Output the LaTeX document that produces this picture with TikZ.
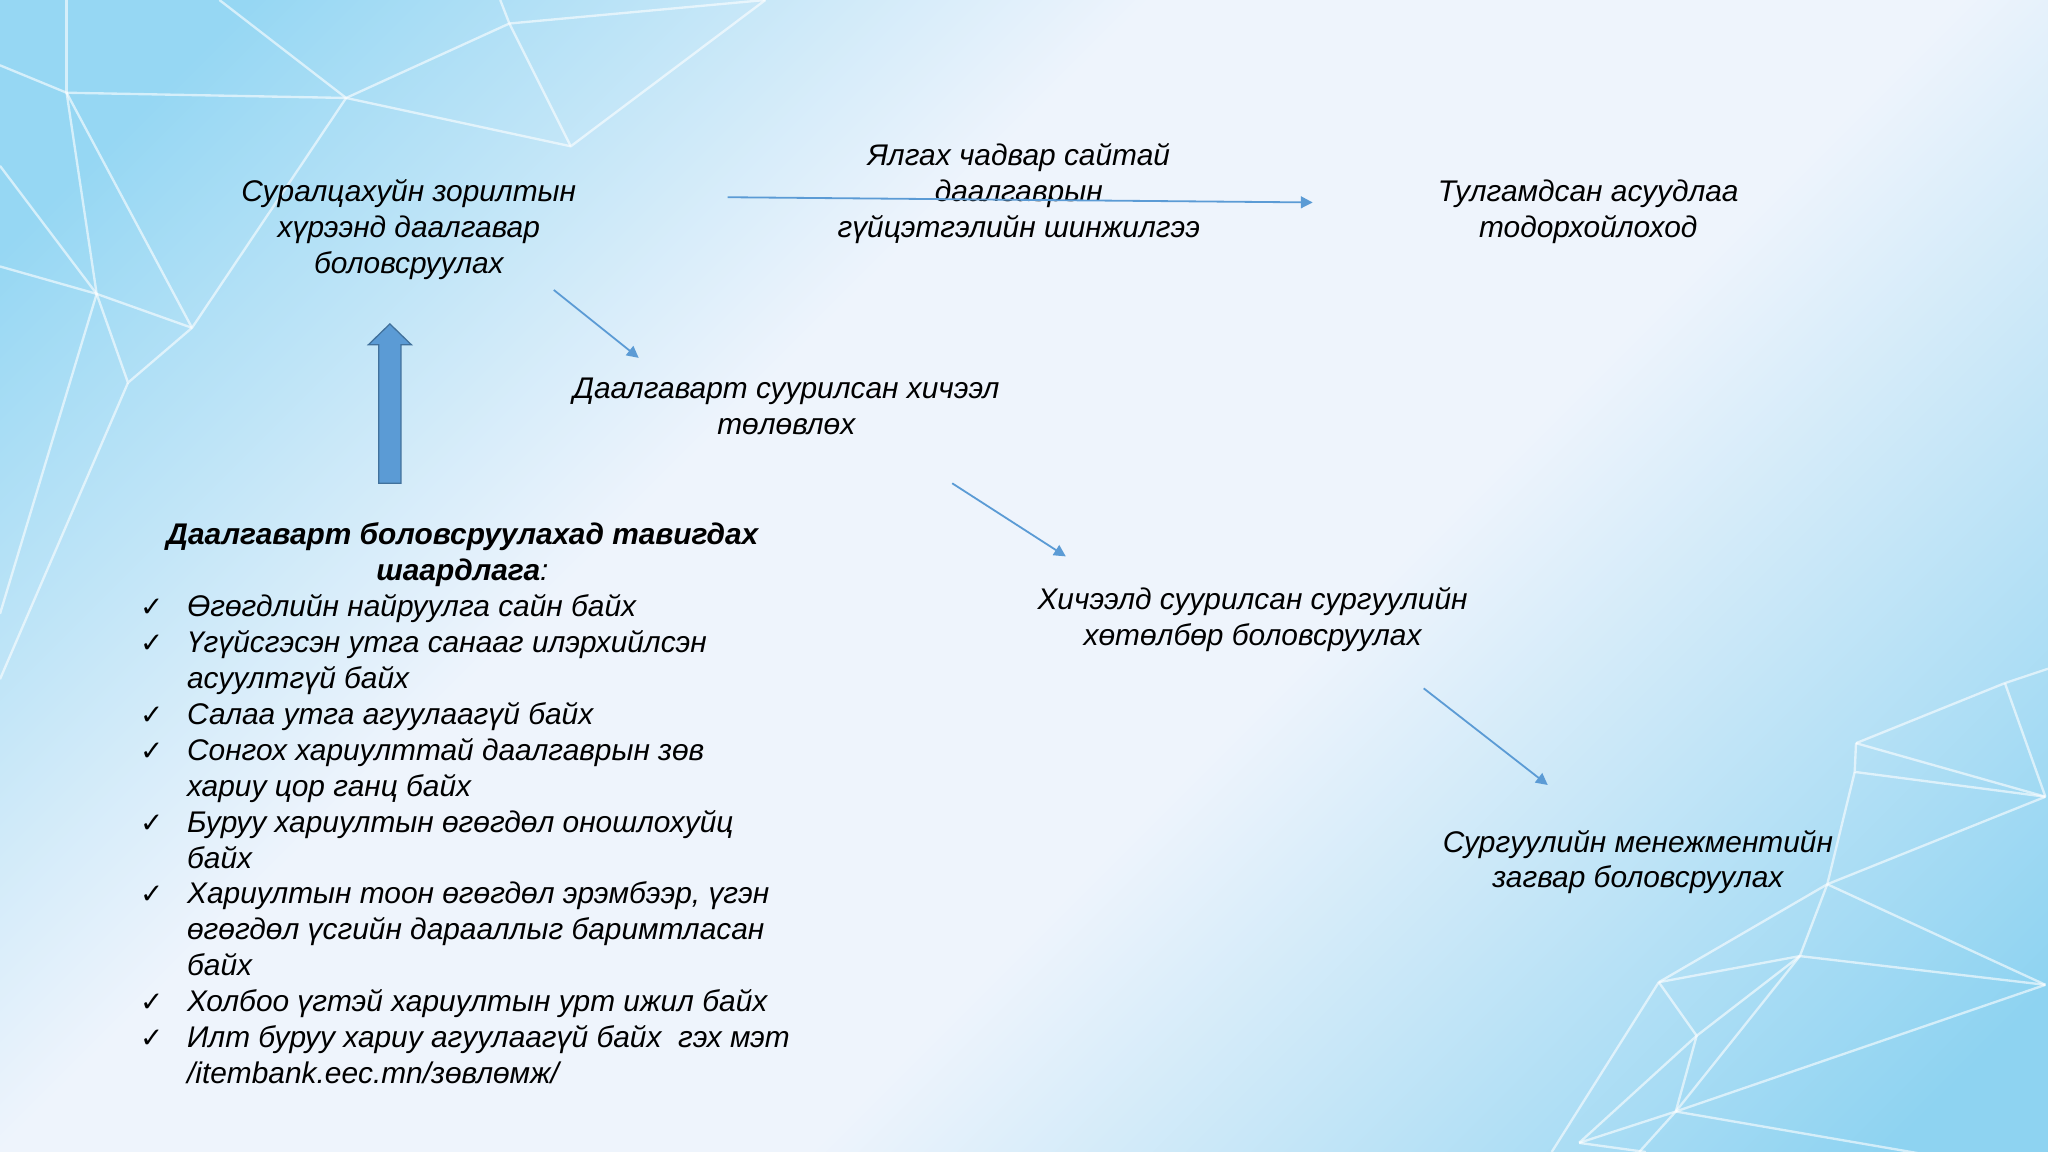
\documentclass[tikz,border=0pt]{standalone}
\usepackage{fontspec}
\setmainfont{Liberation Sans}
\newfontfamily\symfont{DejaVu Sans}
\usetikzlibrary{arrows.meta,calc}
\definecolor{bgA}{HTML}{96D7F3}
\definecolor{bgW}{HTML}{EEF4FC}
\definecolor{bgB}{HTML}{8ED3F1}
\definecolor{arrowblue}{HTML}{5B9BD5}
\definecolor{arrowedge}{HTML}{41719C}
\pgfdeclarehorizontalshading{bgshade}{100bp}{color(0bp)=(bgA); color(20bp)=(bgA); color(40bp)=(bgW); color(58bp)=(bgW); color(82bp)=(bgB); color(100bp)=(bgB)}
\newcommand{\lchk}{\makebox[22pt][l]{\symfont\upshape\fontsize{13}{14}\selectfont ✓}}
\newcommand{\lind}{\hspace*{22pt}}
\tikzset{
  bgline/.style={draw=white, opacity=0.6, line width=1.1pt, line join=round},
  lbl/.style={font=\itshape\fontsize{14}{16.84}\selectfont, align=center, inner sep=0pt, text=black},
  lst/.style={font=\itshape\fontsize{14}{16.84}\selectfont, align=left, inner sep=0pt, text=black},
  thinarr/.style={draw=arrowblue, line width=0.85pt, -{Triangle[length=5.5pt,width=5.5pt]}},
  blockarr/.style={fill=arrowblue, draw=arrowedge, line width=0.6pt, line join=miter}
}
\begin{document}
\begin{tikzpicture}[x=0.6122pt,y=-0.6122pt]
\useasboundingbox (0,0) rectangle (1568,882);
\shade[shading=bgshade, shading angle=-45] (0,0) rectangle (1568,882);
% top-left network
\coordinate (p1) at (51,71);
\coordinate (p2) at (265,75);
\coordinate (p3) at (390,18);
\coordinate (p4) at (437,112);
\coordinate (p5) at (74,225);
\coordinate (p6) at (147,251);
\coordinate (p7) at (98,293);
\draw[bgline] (0,50) -- (p1) -- (p2) -- (p3) -- (586,0);
\draw[bgline] (51,0) -- (p1);
\draw[bgline] (168,0) -- (p2);
\draw[bgline] (383,0) -- (p3) -- (p4) -- (586,0);
\draw[bgline] (p2) -- (p4);
\draw[bgline] (p1) -- (p5);
\draw[bgline] (p1) -- (p6);
\draw[bgline] (0,127) -- (p5) -- (p6) -- (p2);
\draw[bgline] (0,204) -- (p5) -- (p7) -- (p6);
\draw[bgline] (p5) -- (0,470);
\draw[bgline] (p7) -- (0,520);
% bottom-right network
\coordinate (a) at (1535,523);
\coordinate (b) at (1421,569);
\coordinate (c) at (1420,591);
\coordinate (d) at (1566,610);
\coordinate (e) at (1399,677);
\coordinate (f) at (1378,732);
\coordinate (g) at (1270,752);
\coordinate (h) at (1299,793);
\coordinate (i) at (1283,851);
\coordinate (j) at (1209,875);
\coordinate (k) at (1566,754);
\draw[bgline] (b) -- (a) -- (1568,512);
\draw[bgline] (a) -- (d);
\draw[bgline] (b) -- (d);
\draw[bgline] (b) -- (c) -- (d);
\draw[bgline] (c) -- (e) -- (f);
\draw[bgline] (d) -- (e) -- (g);
\draw[bgline] (e) -- (k);
\draw[bgline] (g) -- (f) -- (k);
\draw[bgline] (g) -- (h) -- (i) -- (1255,882);
\draw[bgline] (f) -- (h);
\draw[bgline] (f) -- (i);
\draw[bgline] (h) -- (j);
\draw[bgline] (g) -- (1188,882);
\draw[bgline] (j) -- (i) -- (k);
\draw[bgline] (i) -- (1568,900);
\draw[bgline] (j) -- (1260,882);
% text nodes
\node[lbl] (A) at (313,176) {Суралцахуйн зорилтын\\хүрээнд даалгавар\\боловсруулах};
\node[lbl] (B) at (780,148) {Ялгах чадвар сайтай\\даалгаврын\\гүйцэтгэлийн шинжилгээ};
\node[lbl] (C) at (1216,162) {Тулгамдсан асуудлаа\\тодорхойлоход};
\node[lbl] (D) at (602,311) {Даалгаварт суурилсан хичээл\\төлөвлөх};
\node[lbl] (E) at (959,474) {Хичээлд суурилсан сургуулийн\\хөтөлбөр боловсруулах};
\node[lbl] (F) at (1254,660) {Сургуулийн менежментийн\\загвар боловсруулах};
\node[lbl] (T) at (354,425) {{\bfseries Даалгаварт боловсруулахад тавигдах}\\{\bfseries шаардлага}:};
\node[lst, anchor=west] (L) at (107,642.5) {%
\lchk Өгөгдлийн найруулга сайн байх\\
\lchk Үгүйсгэсэн утга санааг илэрхийлсэн\\
\lind асуултгүй байх\\
\lchk Салаа утга агуулаагүй байх\\
\lchk Сонгох хариулттай даалгаврын зөв\\
\lind хариу цор ганц байх\\
\lchk Буруу хариултын өгөгдөл оношлохуйц\\
\lind байх\\
\lchk Хариултын тоон өгөгдөл эрэмбээр, үгэн\\
\lind өгөгдөл үсгийн дарааллыг баримтласан\\
\lind байх\\
\lchk Холбоо үгтэй хариултын урт ижил байх\\
\lchk Илт буруу хариу агуулаагүй байх\ \ гэх мэт\\
\lind /itembank.eec.mn/зөвлөмж/};
% connector end points
\coordinate (ab0) at (557,151);
\coordinate (ab1) at (1005,155);
\coordinate (ad0) at (424,222);
\coordinate (ad1) at (489,274);
\coordinate (de0) at (729,370);
\coordinate (de1) at (816,426);
\coordinate (ef0) at (1090,527);
\coordinate (ef1) at (1185,601);
\draw[thinarr] (ab0) -- (ab1);
\draw[thinarr] (ad0) -- (ad1);
\draw[thinarr] (de0) -- (de1);
\draw[thinarr] (ef0) -- (ef1);
% block arrow from requirements up to A
\coordinate (up0) at (298.5,370);
\coordinate (up1) at (298.5,248);
\path[blockarr] ($(up0)+(-8.5,0)$) -- ($(up1)+(-8.5,16)$) -- ($(up1)+(-16.5,16)$) -- (up1) -- ($(up1)+(16.5,16)$) -- ($(up1)+(8.5,16)$) -- ($(up0)+(8.5,0)$) -- cycle;
\end{tikzpicture}
\end{document}
